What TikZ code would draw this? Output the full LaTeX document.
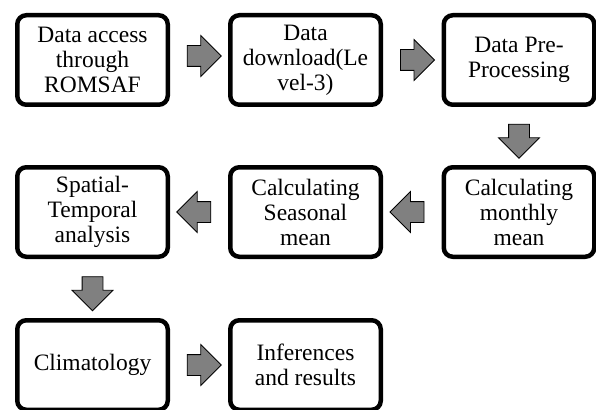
\documentclass[tikz,border=0pt]{standalone}
\usepackage{fontspec}
\setmainfont{Liberation Serif}
\usetikzlibrary{positioning}
\usetikzlibrary{calc}
\usetikzlibrary{shapes.arrows}

\begin{document}
\begin{tikzpicture}[
  x=1pt, y=1pt,
  font=\rmfamily\fontsize{23.5}{25}\selectfont,
  box/.style={draw=black, line width=4.5pt, rounded corners=9pt, fill=white,
              minimum width=150.5pt, minimum height=89.5pt, inner sep=2pt, align=center},
  blk/.style={single arrow, draw=black, fill=black!50, line width=0.8pt,
              inner xsep=0pt, inner ysep=10pt, text height=0pt, text depth=0pt,
              text width=0pt, single arrow head extend=10pt,
              single arrow head indent=0pt, minimum height=34pt},
  blkdown/.style={blk, inner xsep=10pt, inner ysep=0pt, shape border rotate=270}
]
\useasboundingbox (0,0) rectangle (596,-409);
% first row
\node[box] (acc) at (92.5,-60)  {Data access\\through\\ROMSAF};
\node[box] (dl)  at (305.5,-60) {Data\\download(Le\\vel-3)};
\node[box] (pre) at (519,-60)   {Data Pre-\\Processing};
% second row
\node[box] (mon) at (519,-212)   {Calculating\\monthly\\mean};
\node[box] (sea) at (305.5,-212) {Calculating\\Seasonal\\mean};
\node[box] (spt) at (92.5,-212)  {Spatial-\\Temporal\\analysis};
% third row
\node[box] (clim) at (92.5,-365)  {Climatology};
\node[box] (inf)  at (305.5,-365) {Inferences\\and results};
% block arrows
\node[blk, yshift=4pt] (a1) at ($(acc.east)!0.5!(dl.west)$) {};
\node[blk] (a2) at ($(dl.east)!0.5!(pre.west)$) {};
\node[blkdown] (a3) at ($(pre.south)!0.5!(mon.north)$) {};
\node[blk, shape border rotate=180] (a4) at ($(mon.west)!0.5!(sea.east)$) {};
\node[blk, shape border rotate=180] (a5) at ($(sea.west)!0.5!(spt.east)$) {};
\node[blkdown] (a6) at ($(spt.south)!0.5!(clim.north)$) {};
\node[blk] (a7) at ($(clim.east)!0.5!(inf.west)$) {};
\end{tikzpicture}
\end{document}
